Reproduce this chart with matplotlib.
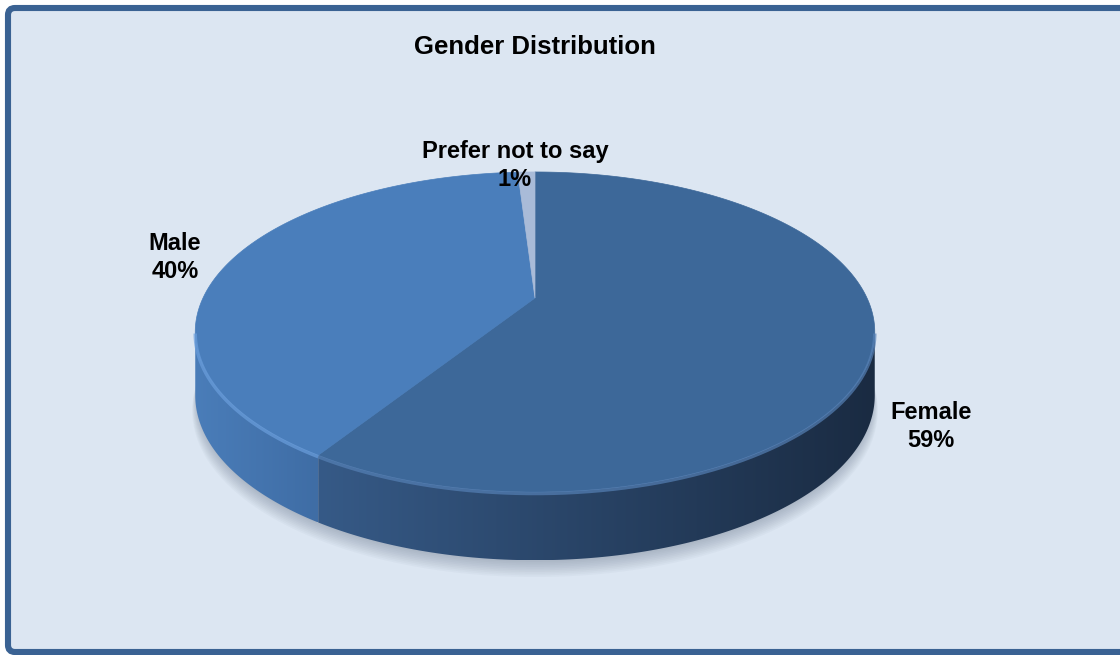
import matplotlib.pyplot as plt
import numpy as np
from matplotlib.patches import Polygon, FancyBboxPatch
from matplotlib.colors import LinearSegmentedColormap

# data
labels = ['Female', 'Male', 'Prefer not to say']
values = [59, 40, 1]
pct_labels = ['59%', '40%', '1%']

# styles
top_colors = ['#3D6899', '#4A7EBB', '#A9BBD8']
wall_colors = [('#365A87', '#1A2B42'), ('#4A7DB9', '#3F6DA5'), ('#B0C2DD', '#9DB0CF')]
rim_colors = ['#5580B5', '#6A9EDC', '#C8D6EA']
label_pos = [(931, 419), (175, 250), (515, 158)]

# pie geometry in pixels (perspective-ish projection)
CX, CY = 535, 298
RX, RY, K = 332, 152.8, 0.2125
DEPTH = 62


def proj(t, rf=1.0, drop=0.0):
    u = rf * np.cos(t)
    v = rf * np.sin(t)
    w = 1 + K * v
    x = CX + RX * u / w
    y = CY - RY * v / w + drop * (1 - 0.1 * np.sin(t))
    return x, y


fig = plt.figure(figsize=(11.2, 6.55), dpi=100, facecolor='white')
ax = fig.add_axes([0, 0, 1, 1])
ax.set_axis_off()
ax.set_xlim(0, 1120)
ax.set_ylim(655, 0)
ax.autoscale(False)

frame = FancyBboxPatch((8, 8), 1160, 644, boxstyle='round,pad=0,rounding_size=7',
                       fc='#DCE6F2', ec='#3A6293', lw=4.4, zorder=0, clip_on=False)
ax.add_patch(frame)

ax.text(535, 54, 'Gender Distribution', ha='center', va='baseline',
        fontsize=18.5, fontweight='bold', family='Liberation Sans', zorder=10)

# slice angles: start at 12 o'clock, clockwise
fracs = np.array(values, dtype=float) / sum(values)
starts = np.pi / 2 - 2 * np.pi * np.concatenate([[0], np.cumsum(fracs)[:-1]])
ends = starts - 2 * np.pi * fracs

# soft shadow under the pie
tt = np.linspace(0, 2 * np.pi, 400)
for i in range(10):
    sx, sy = proj(tt, 0.995 + 0.0015 * i, DEPTH)
    ax.add_patch(Polygon(np.column_stack([sx, sy + 3 + 1.3 * i]), closed=True,
                         fc='#4a5870', ec='none', alpha=0.035, zorder=1))

# side walls, only the part facing the viewer
t_left = np.pi + np.arcsin(K)
t_right = -np.arcsin(K)
vis_lo, vis_hi = t_left - 2 * np.pi, t_right
for i in range(len(values)):
    a, b = ends[i], starts[i]
    for shift in (-2 * np.pi, 0, 2 * np.pi):
        lo = max(a + shift, vis_lo)
        hi = min(b + shift, vis_hi)
        if lo >= hi:
            continue
        t = np.linspace(lo, hi, 200)
        x1, y1 = proj(t)
        x2, y2 = proj(t, drop=DEPTH)
        pts = np.column_stack([np.concatenate([x1, x2[::-1]]),
                               np.concatenate([y1, y2[::-1]])])
        poly = Polygon(pts, closed=True, fc='none', ec='none', zorder=2)
        ax.add_patch(poly)
        cmap = LinearSegmentedColormap.from_list('w%d' % i, wall_colors[i])
        grad = np.linspace(0, 1, 256).reshape(1, -1)
        im = ax.imshow(grad, cmap=cmap, aspect='auto', interpolation='bilinear',
                       extent=(pts[:, 0].min(), pts[:, 0].max(),
                               pts[:, 1].max(), pts[:, 1].min()), zorder=2)
        im.set_clip_path(poly)
        # slight highlight on the front rim (bevel)
        ax.plot(x1, y1 + 1.5, color=rim_colors[i], lw=2.5, alpha=0.7,
                solid_capstyle='butt', zorder=4)

# top faces
for i in range(len(values)):
    t = np.linspace(starts[i], ends[i], 300)
    x, y = proj(t)
    pts = np.column_stack([np.concatenate([[CX], x]), np.concatenate([[CY], y])])
    ax.add_patch(Polygon(pts, closed=True, fc=top_colors[i], ec=top_colors[i],
                         lw=0.5, zorder=3))

# data labels
for i in range(len(values)):
    lx, ly = label_pos[i]
    ax.text(lx, ly, labels[i], ha='center', va='baseline', fontsize=17,
            fontweight='bold', family='Liberation Sans', zorder=10)
    ax.text(lx, ly + 28, pct_labels[i], ha='center', va='baseline', fontsize=17,
            fontweight='bold', family='Liberation Sans', zorder=10)

ax.set_xlim(0, 1120)
ax.set_ylim(655, 0)

plt.savefig('out.png', dpi=100, facecolor=fig.get_facecolor())
